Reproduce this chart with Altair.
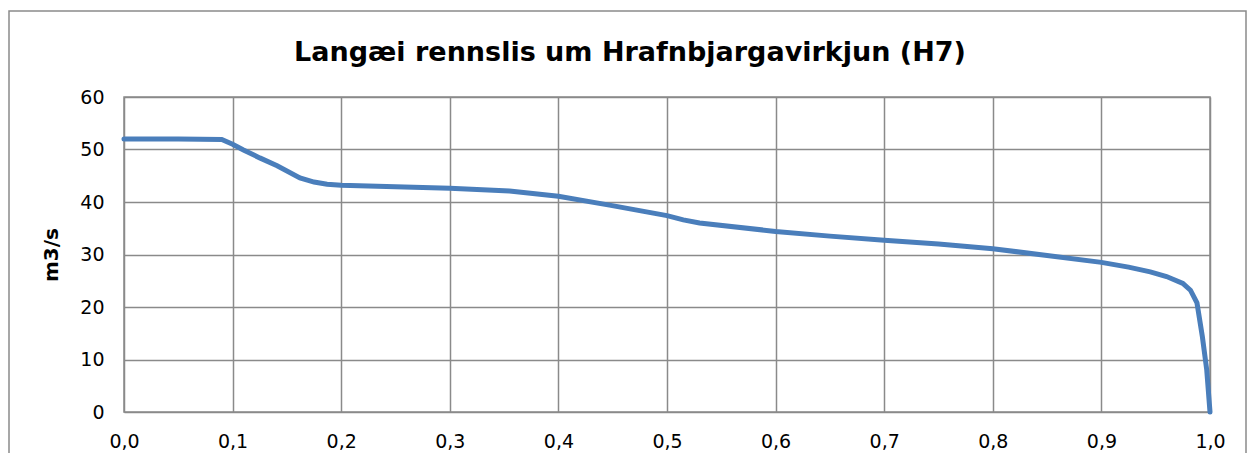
import altair as alt
import pandas as pd

# Duration (fraction of time) and flow (m3/s)
duration = [0.0, 0.05, 0.09, 0.10, 0.11, 0.125, 0.141, 0.162, 0.175, 0.187, 0.20, 0.25, 0.30, 0.355,
            0.40, 0.447, 0.50, 0.515, 0.53, 0.60, 0.65, 0.70, 0.75, 0.80, 0.85, 0.90, 0.925, 0.945, 0.96,
            0.975, 0.982, 0.988, 0.993, 0.997, 1.0]
flow = [52.0, 52.0, 51.9, 51.0, 49.9, 48.4, 46.9, 44.6, 43.8, 43.4, 43.2, 42.9, 42.6, 42.1,
        41.1, 39.4, 37.4, 36.6, 36.0, 34.4, 33.5, 32.7, 32.0, 31.1, 29.8, 28.5, 27.6, 26.7, 25.8,
        24.5, 23.2, 20.8, 14.3, 8.0, 0.0]

x_ticks = [0.0, 0.1, 0.2, 0.3, 0.4, 0.5, 0.6, 0.7, 0.8, 0.9, 1.0]
y_ticks = [0, 10, 20, 30, 40, 50, 60]

title_text = "Langæi rennslis um Hrafnbjargavirkjun (H7)"
y_title = "m3/s"

df = pd.DataFrame({"x": duration, "y": flow})

GRID = "#8a8a8a"
FONT = "DejaVu Sans"

one = pd.DataFrame({"a": [0]})

frame = alt.Chart(one).mark_rect(
    fill=None, stroke=GRID, strokeWidth=1.5, clip=False
).encode(
    x=alt.value(-115), x2=alt.value(1122), y=alt.value(-86), y2=alt.value(400)
)

title = alt.Chart(one).mark_text(
    text=title_text, font=FONT, fontSize=27, fontWeight="bold", color="black",
    align="center", baseline="middle", clip=False
).encode(x=alt.value(506), y=alt.value(-44))

line = alt.Chart(df).mark_line(color="#4a7ebb", strokeWidth=5, strokeCap="round").encode(
    x=alt.X("x:Q", scale=alt.Scale(domain=[0, 1], nice=False),
            axis=alt.Axis(values=x_ticks, title=None, grid=True, labelFlush=False,
                          labelExpr="replace(format(datum.value, '.1f'), '.', ',')",
                          ticks=False, domain=False, labelPadding=20)),
    y=alt.Y("y:Q", scale=alt.Scale(domain=[0, 60], nice=False),
            axis=alt.Axis(values=y_ticks, title=y_title, grid=True, ticks=False,
                          domain=False, labelPadding=20, titlePadding=18)),
)

chart = alt.layer(frame, title, line).properties(
    width=1086, height=315,
    autosize=alt.AutoSizeParams(type="none"),
    padding={"left": 116, "top": 89, "right": 38, "bottom": 41},
    background="white",
).configure_view(
    stroke=GRID, strokeWidth=1.5
).configure_axis(
    gridColor=GRID, gridWidth=1.5, gridOpacity=1,
    labelFont=FONT, labelFontSize=19, labelColor="black",
    titleFont=FONT, titleFontSize=20, titleFontWeight="bold", titleColor="black",
)

chart.save("out.html", embed_options={"renderer": "svg", "actions": False})
